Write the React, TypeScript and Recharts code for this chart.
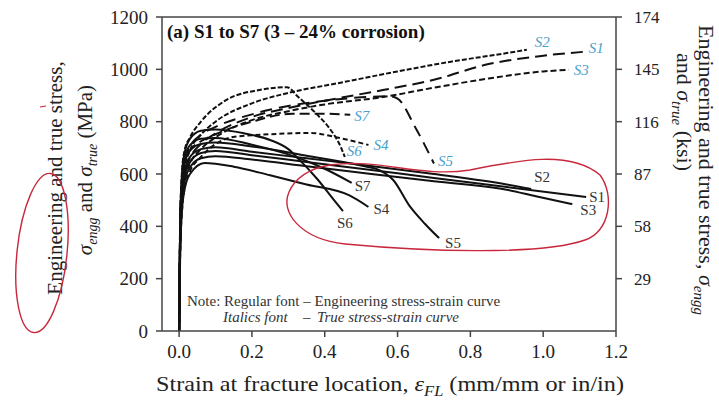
import React from 'react';
import { LineChart, Line, XAxis, YAxis, ReferenceLine, LabelList } from 'recharts';

const FONT = '"Liberation Serif", "Times New Roman", serif';

// ---------- axis ticks ----------
const strainTicks = [0, 0.2, 0.4, 0.6, 0.8, 1.0, 1.2];
const mpaTicks = [0, 200, 400, 600, 800, 1000, 1200];
const ksiTicks = [29, 58, 87, 116, 145, 174];

// ---------- engineering stress-strain curves (solid) ----------
const s1EngStrain = [0, 0.003, 0.008, 0.015, 0.03, 0.06, 0.1, 0.2, 0.35, 0.5, 0.7, 0.9, 1.118];
const s1EngStress = [0, 350, 520, 590, 645, 680, 688, 672, 646, 620, 585, 550, 512];
const s2EngStrain = [0, 0.003, 0.008, 0.015, 0.03, 0.06, 0.1, 0.2, 0.35, 0.5, 0.7, 0.9, 0.967];
const s2EngStress = [0, 370, 540, 610, 665, 695, 702, 685, 660, 635, 600, 560, 543];
const s3EngStrain = [0, 0.003, 0.008, 0.015, 0.03, 0.06, 0.1, 0.2, 0.35, 0.5, 0.7, 0.9, 0.98, 1.08];
const s3EngStress = [0, 330, 500, 570, 625, 660, 668, 655, 630, 605, 572, 540, 515, 485];
const s4EngStrain = [0, 0.003, 0.008, 0.015, 0.03, 0.07, 0.15, 0.25, 0.35, 0.468, 0.52];
const s4EngStress = [0, 300, 460, 540, 600, 642, 628, 595, 560, 518, 474];
const s5EngStrain = [0, 0.003, 0.008, 0.015, 0.03, 0.06, 0.1, 0.2, 0.35, 0.5, 0.55, 0.588, 0.635, 0.675, 0.714];
const s5EngStress = [0, 400, 570, 640, 690, 715, 720, 705, 670, 632, 615, 577, 474, 410, 355];
const s6EngStrain = [0, 0.003, 0.008, 0.015, 0.03, 0.06, 0.1, 0.18, 0.25, 0.3, 0.33, 0.38, 0.42, 0.45];
const s6EngStress = [0, 420, 600, 680, 735, 765, 770, 755, 730, 695, 655, 580, 510, 458];
const s7EngStrain = [0, 0.003, 0.008, 0.015, 0.03, 0.06, 0.1, 0.2, 0.3, 0.4, 0.474];
const s7EngStress = [0, 410, 580, 660, 710, 735, 738, 712, 675, 620, 566];

// ---------- true stress-strain curves (dashed) ----------
const s1TrueStrain = [0, 0.003, 0.008, 0.015, 0.03, 0.06, 0.1, 0.2, 0.3, 0.4, 0.56, 0.7, 0.85, 1.0, 1.12];
const s1TrueStress = [0, 350, 520, 600, 660, 715, 755, 818, 852, 880, 921, 960, 1020, 1052, 1068];
const s2TrueStrain = [0, 0.003, 0.008, 0.015, 0.03, 0.06, 0.1, 0.2, 0.3, 0.44, 0.6, 0.75, 0.9, 0.955];
const s2TrueStress = [0, 370, 540, 620, 690, 750, 800, 870, 910, 948, 992, 1030, 1062, 1075];
const s3TrueStrain = [0, 0.003, 0.008, 0.015, 0.03, 0.06, 0.1, 0.2, 0.3, 0.4, 0.56, 0.7, 0.85, 1.0, 1.07];
const s3TrueStress = [0, 330, 500, 580, 640, 695, 740, 806, 840, 866, 894, 930, 965, 992, 998];
const s4TrueStrain = [0, 0.003, 0.008, 0.015, 0.03, 0.06, 0.148, 0.25, 0.36, 0.43, 0.48, 0.52];
const s4TrueStress = [0, 300, 460, 545, 610, 665, 741, 752, 757, 741, 725, 711];
const s5TrueStrain = [0, 0.003, 0.008, 0.015, 0.03, 0.06, 0.1, 0.2, 0.3, 0.4, 0.5, 0.578, 0.6, 0.65, 0.7];
const s5TrueStress = [0, 400, 570, 650, 705, 750, 780, 828, 860, 880, 893, 897, 888, 775, 640];
const s6TrueStrain = [0, 0.003, 0.008, 0.015, 0.03, 0.06, 0.13, 0.22, 0.296, 0.325, 0.38, 0.41, 0.445, 0.455];
const s6TrueStress = [0, 430, 610, 690, 740, 800, 883, 921, 932, 897, 826, 780, 700, 665];
const s7TrueStrain = [0, 0.003, 0.008, 0.015, 0.03, 0.06, 0.1, 0.2, 0.31, 0.4, 0.47];
const s7TrueStress = [0, 410, 580, 650, 690, 725, 752, 800, 830, 830, 826];

const specimenNames = ['S1', 'S2', 'S3', 'S4', 'S5', 'S6', 'S7'];

const build = (xs: number[], ys: number[], tag: string) =>
  xs.map((x, i) => ({ x, y: ys[i], tag: i === xs.length - 1 ? tag : undefined }));

const engData = [
  build(s1EngStrain, s1EngStress, specimenNames[0]),
  build(s2EngStrain, s2EngStress, specimenNames[1]),
  build(s3EngStrain, s3EngStress, specimenNames[2]),
  build(s4EngStrain, s4EngStress, specimenNames[3]),
  build(s5EngStrain, s5EngStress, specimenNames[4]),
  build(s6EngStrain, s6EngStress, specimenNames[5]),
  build(s7EngStrain, s7EngStress, specimenNames[6]),
];
const trueData = [
  build(s1TrueStrain, s1TrueStress, specimenNames[0]),
  build(s2TrueStrain, s2TrueStress, specimenNames[1]),
  build(s3TrueStrain, s3TrueStress, specimenNames[2]),
  build(s4TrueStrain, s4TrueStress, specimenNames[3]),
  build(s5TrueStrain, s5TrueStress, specimenNames[4]),
  build(s6TrueStrain, s6TrueStress, specimenNames[5]),
  build(s7TrueStrain, s7TrueStress, specimenNames[6]),
];

// label offsets (style)
const engOffsets = [[3, 5], [3, -7], [8, 11], [5, 7], [6, 10], [-6, 17], [3, 8]];
const trueOffsets = [[2, 1], [8, -3], [5, 5], [5, 5], [4, 2], [2, -1], [4, 6]];
const trueDash = ['12 6', '5 2', '6 3', '5 3', '12 7', '5 2', '10 5'];

const TRUE_BLUE = '#4aa0cc';

const makeLabel = (dx: number, dy: number, italic: boolean, color: string) => (props: any) => {
  const { value } = props;
  if (value === undefined || value === null || value === '') return null;
  const px = props.x ?? props.viewBox?.x;
  const py = props.y ?? props.viewBox?.y;
  if (px === undefined || py === undefined) return null;
  return (
    <text
      x={px + dx}
      y={py + dy}
      fontFamily={FONT}
      fontSize={15}
      fontStyle={italic ? 'italic' : 'normal'}
      fill={color}
    >
      {value}
    </text>
  );
};

const tickStyle = { fontFamily: FONT, fontSize: 19, fill: '#222' };

export default function App() {
  return (
    <div style={{ position: 'absolute', left: 0, top: 0, width: 719, height: 401, background: '#fff' }}>
      <LineChart width={719} height={401} margin={{ top: 17, right: 0, bottom: 0, left: 0 }}>
        <XAxis
          dataKey="x"
          type="number"
          domain={[-0.047, 1.2]}
          ticks={strainTicks}
          allowDataOverflow
          tickFormatter={(v: number) => v.toFixed(1)}
          tick={tickStyle}
          tickSize={6}
          tickMargin={8}
          height={70}
          stroke="#444"
          strokeWidth={1.5}
        />
        <YAxis
          yAxisId="mpa"
          orientation="left"
          type="number"
          domain={[0, 1200]}
          ticks={mpaTicks}
          allowDataOverflow
          tick={tickStyle}
          tickSize={6}
          tickMargin={8}
          width={162}
          stroke="#444"
          strokeWidth={1.5}
        />
        <YAxis
          yAxisId="ksi"
          orientation="right"
          type="number"
          domain={[0, 174]}
          ticks={ksiTicks}
          allowDataOverflow
          tick={{ ...tickStyle, fontSize: 17 }}
          tickSize={6}
          tickMargin={12}
          width={103}
          stroke="#444"
          strokeWidth={1.5}
        />
        <ReferenceLine yAxisId="mpa" y={1200} stroke="#444" strokeWidth={1.5} />
        {trueData.map((d, i) => (
          <Line
            key={'t' + i}
            yAxisId="mpa"
            data={d}
            dataKey="y"
            type="monotone"
            stroke="#111"
            strokeWidth={2}
            strokeDasharray={trueDash[i]}
            dot={false}
            isAnimationActive={false}
          >
            <LabelList dataKey="tag" content={makeLabel(trueOffsets[i][0], trueOffsets[i][1], true, TRUE_BLUE)} />
          </Line>
        ))}
        {engData.map((d, i) => (
          <Line
            key={'e' + i}
            yAxisId="mpa"
            data={d}
            dataKey="y"
            type="monotone"
            stroke="#111"
            strokeWidth={2}
            dot={false}
            isAnimationActive={false}
          >
            <LabelList dataKey="tag" content={makeLabel(engOffsets[i][0], engOffsets[i][1], false, '#333')} />
          </Line>
        ))}
      </LineChart>
      <svg
        width={719}
        height={401}
        style={{ position: 'absolute', left: 0, top: 0, pointerEvents: 'none' }}
        fontFamily={FONT}
      >
        <text x={167} y={38} fontSize={19} fontWeight="bold" fill="#111">
          (a) S1 to S7 (3 – 24% corrosion)
        </text>
        <text x={187} y={306} fontSize={15} fill="#333">
          Note: Regular font – Engineering stress-strain curve
        </text>
        <text x={223} y={322} fontSize={15} fill="#333" fontStyle="italic">
          Italics font
        </text>
        <text x={303} y={322} fontSize={15} fill="#333">–</text>
        <text x={317} y={322} fontSize={15} fill="#333" fontStyle="italic">
          True stress-strain curve
        </text>
        {/* bottom axis title */}
        <text transform="translate(390,391) scale(1.1,1)" x={0} y={0} fontSize={22} fill="#222" textAnchor="middle">
          Strain at fracture location,{' '}
          <tspan fontStyle="italic">ε</tspan>
          <tspan fontStyle="italic" fontSize={15} dy={5}>FL</tspan>
          <tspan dy={-5}> (mm/mm or in/in)</tspan>
        </text>
        {/* left axis title */}
        <text transform="translate(62,178) rotate(-90)" fontSize={21} fill="#222" textAnchor="middle">
          Engineering and true stress,
        </text>
        <text transform="translate(92,170) rotate(-90)" fontSize={21} fill="#222" textAnchor="middle">
          <tspan fontStyle="italic">σ</tspan>
          <tspan fontStyle="italic" fontSize={14} dy={5}>engg</tspan>
          <tspan dy={-5}> and </tspan>
          <tspan fontStyle="italic">σ</tspan>
          <tspan fontStyle="italic" fontSize={14} dy={5}>true</tspan>
          <tspan dy={-5}> (MPa)</tspan>
        </text>
        {/* right axis title */}
        <text transform="translate(699,170) rotate(90)" fontSize={22} fill="#222" textAnchor="middle">
          Engineering and true stress,{' '}
          <tspan fontStyle="italic">σ</tspan>
          <tspan fontStyle="italic" fontSize={15} dy={5}>engg</tspan>
        </text>
        <text transform="translate(677,112) rotate(90)" fontSize={22} fill="#222" textAnchor="middle">
          and <tspan fontStyle="italic">σ</tspan>
          <tspan fontStyle="italic" fontSize={15} dy={5}>true</tspan>
          <tspan dy={-5}> (ksi)</tspan>
        </text>
        {/* hand-drawn red annotations */}
        <path
          d="M 330 165 C 380 158, 420 178, 470 170 C 520 160, 570 150, 600 175 C 615 195, 610 232, 585 240 C 540 256, 420 251, 345 244 C 300 239, 280 212, 289 192 C 295 178, 310 168, 330 165"
          fill="none"
          stroke="#c8283c"
          strokeWidth={1.4}
        />
        <ellipse cx={42} cy={253} rx={25} ry={80} transform="rotate(6,42,253)" fill="none" stroke="#c8283c" strokeWidth={1.4} />
        <line x1={40} y1={107} x2={46} y2={106} stroke="#c8283c" strokeWidth={1.2} />
      </svg>
    </div>
  );
}
